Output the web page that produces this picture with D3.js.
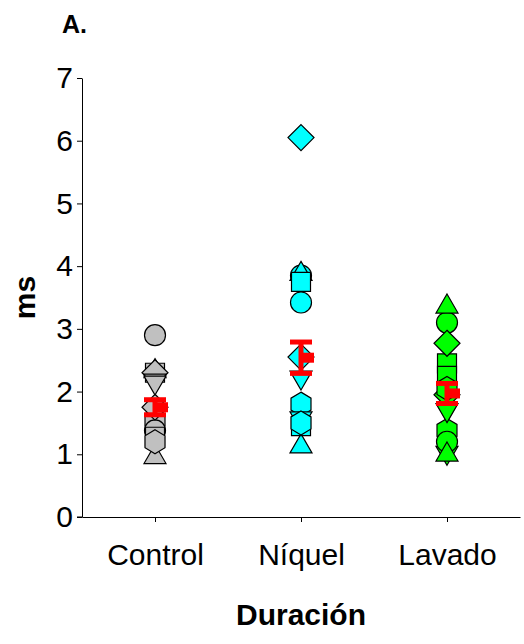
<!DOCTYPE html>
<html>
<head>
<meta charset="utf-8">
<script src="https://cdn.jsdelivr.net/npm/d3@7"></script>
<style>
  body { margin: 0; background: #fff; }
  text { font-family: "Liberation Sans", Arial, sans-serif; }
</style>
</head>
<body>
<svg id="chart"></svg>
<script>
// categories and tick values
const categories = ["Control", "Níquel", "Lavado"];
const yTicks = [0, 1, 2, 3, 4, 5, 6, 7];

// one value per cell, same cell index in each condition
const controlValues = [2.9, 2.35, 2.3, 2.3, 2.15, 1.55, 1.38, 0.98, 1.28, 1.75, 2.12, 1.2];
const niquelValues  = [3.85, 3.9, 3.75, 6.05, 2.2, 1.8, 3.42, 1.15, 1.45, 2.55, 1.55, 1.5];
const lavadoValues  = [3.1, 3.38, 2.45, 2.77, 1.0, 1.38, 1.2, 1.02, 2.25, 1.95, 1.68, 2.05];

// mean and standard error per condition
const means = [1.75, 2.54, 1.97];
const errors = [0.12, 0.25, 0.16];

const symbolOrder = ["circle", "triangleUp", "square", "diamond", "triangleDown", "hexagon"];
const fills = ["#c0c0c0", "#00ffff", "#00ff00"];

const width = 524, height = 644;
const margin = {top: 78, right: 4, bottom: 127, left: 82};

const svg = d3.select("#chart")
    .attr("width", width)
    .attr("height", height);

const x = d3.scalePoint()
    .domain(categories)
    .range([margin.left, width - margin.right])
    .padding(0.5);

const y = d3.scaleLinear()
    .domain([0, 7])
    .range([height - margin.bottom, margin.top]);

function symbolPath(type){
    switch(type){
        case "circle": return d3.arc()({innerRadius: 0, outerRadius: 10.5, startAngle: 0, endAngle: 2 * Math.PI});
        case "triangleUp": return "M0,-11L11,8L-11,8Z";
        case "triangleDown": return "M0,11L11,-8L-11,-8Z";
        case "square": return "M-9.5,-9.5H9.5V9.5H-9.5Z";
        case "diamond": return "M0,-13L13,0L0,13L-13,0Z";
        case "hexagon": return "M0,-12L10,-6L10,6L0,12L-10,6L-10,-6Z";
    }
}

// axes
const yAxis = d3.axisLeft(y).tickValues(yTicks).tickFormat(d3.format("d"))
    .tickSize(5).tickSizeOuter(0).tickPadding(4);
const yAxisG = svg.append("g")
    .attr("transform", `translate(${margin.left},0)`)
    .call(yAxis);

const xAxis = d3.axisBottom(x).tickSize(5).tickSizeOuter(0).tickPadding(22);
const xAxisG = svg.append("g")
    .attr("transform", `translate(0,${height - margin.bottom})`)
    .call(xAxis);

svg.selectAll(".domain").attr("stroke", "#000").attr("stroke-width", 1);
svg.selectAll(".tick line").attr("stroke", "#000");
yAxisG.selectAll("text").attr("font-size", 30).attr("fill", "#000");
xAxisG.selectAll("text").attr("font-size", 30).attr("fill", "#000");
// extend x axis a bit to the left like the original
xAxisG.append("line")
    .attr("x1", margin.left - 5).attr("x2", margin.left)
    .attr("stroke", "#000");

// points
const groups = [controlValues, niquelValues, lavadoValues];
groups.forEach((vals, gi) => {
    svg.append("g")
        .selectAll("path")
        .data(vals)
        .join("path")
            .attr("d", (d, i) => symbolPath(symbolOrder[i % symbolOrder.length]))
            .attr("transform", d => `translate(${x(categories[gi])},${y(d)})`)
            .attr("fill", fills[gi])
            .attr("stroke", "#000")
            .attr("stroke-width", 1.2);
});

// mean +- SE
const meanG = svg.append("g");
categories.forEach((c, i) => {
    const cx = x(c);
    meanG.append("line")
        .attr("x1", cx).attr("x2", cx)
        .attr("y1", y(means[i] - errors[i])).attr("y2", y(means[i] + errors[i]))
        .attr("stroke", "red").attr("stroke-width", 5);
    [means[i] - errors[i], means[i] + errors[i]].forEach(v => {
        meanG.append("line")
            .attr("x1", cx - 11).attr("x2", cx + 11)
            .attr("y1", y(v)).attr("y2", y(v))
            .attr("stroke", "red").attr("stroke-width", 5);
    });
    meanG.append("rect")
        .attr("x", cx + 1).attr("y", y(means[i]) - 5)
        .attr("width", 12).attr("height", 10)
        .attr("fill", "red");
});

// labels
svg.append("text")
    .attr("x", 62).attr("y", 33)
    .attr("font-size", 25).attr("font-weight", "bold")
    .text("A.");

svg.append("text")
    .attr("x", (margin.left + width - margin.right) / 2)
    .attr("y", 625)
    .attr("text-anchor", "middle")
    .attr("font-size", 30).attr("font-weight", "bold")
    .text("Duración");

svg.append("text")
    .attr("transform", `translate(35,${y(3.5)}) rotate(-90)`)
    .attr("text-anchor", "middle")
    .attr("font-size", 30).attr("font-weight", "bold")
    .text("ms");
</script>
</body>
</html>
